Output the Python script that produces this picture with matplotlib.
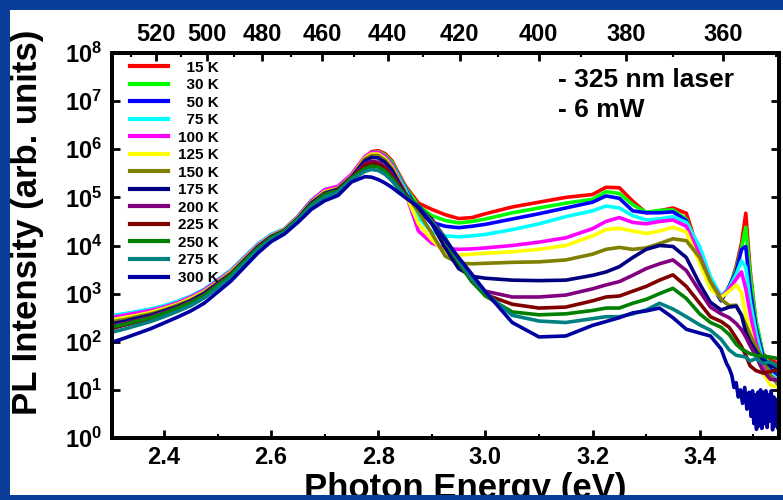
import numpy as np
import matplotlib
matplotlib.use("Agg")
import matplotlib.pyplot as plt
from matplotlib.patches import Rectangle
from matplotlib.ticker import FixedLocator, LogLocator, MultipleLocator, NullFormatter

# Photon energy grid (eV) shared by the curves.
energy = [2.300, 2.325, 2.350, 2.375, 2.400, 2.425, 2.450, 2.475, 2.500, 2.525,
          2.550, 2.575, 2.600, 2.625, 2.650, 2.675, 2.700, 2.725, 2.750, 2.775,
          2.7875, 2.800, 2.8125, 2.825, 2.850, 2.875, 2.900, 2.925, 2.950, 2.975,
          3.000, 3.050, 3.100, 3.150, 3.200, 3.225, 3.250, 3.275, 3.300, 3.325,
          3.350, 3.375, 3.400, 3.420, 3.440, 3.455, 3.468, 3.478, 3.486, 3.494,
          3.505, 3.518, 3.532, 3.547]

temperatures = [15, 30, 50, 75, 100, 125, 150, 175, 200, 225, 250, 275, 300]
colors = ["#ff0000", "#00ff00", "#0000ff", "#00ffff", "#ff00ff", "#ffff00",
          "#808000", "#000080", "#800080", "#800000", "#008000", "#008080",
          "#0000a0"]

# log10 of PL intensity.
log_15k = [2.45, 2.49, 2.55, 2.61, 2.69, 2.78, 2.90, 3.04, 3.24, 3.45, 3.72, 3.99, 4.20,
           4.33, 4.58, 4.90, 5.12, 5.19, 5.44,
           5.82, 5.95, 5.97, 5.91, 5.77,
           5.25, 4.88, 4.75, 4.64, 4.56, 4.58, 4.66, 4.80, 4.90, 5.00,
           5.06, 5.21, 5.20, 4.92, 4.68, 4.72, 4.78, 4.67, 3.80, 3.26, 2.88, 3.10, 3.56,
           4.05, 4.67, 3.50, 2.40, 1.75, 1.62, 1.55]
log_30k = [2.48, 2.52, 2.58, 2.63, 2.70, 2.80, 2.91, 3.05, 3.26, 3.46, 3.73, 4.00, 4.21,
           4.33, 4.59, 4.91, 5.13, 5.20, 5.45,
           5.82, 5.93, 5.95, 5.88, 5.74,
           5.22, 4.82, 4.62, 4.52, 4.47, 4.50, 4.55, 4.68, 4.78, 4.88,
           4.96, 5.12, 5.08, 4.85, 4.69, 4.73, 4.74, 4.55, 3.85, 3.30, 2.88, 3.15, 3.50,
           3.95, 4.38, 3.40, 2.45, 1.75, 1.50, 1.35]
log_50k = [2.53, 2.57, 2.62, 2.67, 2.74, 2.83, 2.94, 3.08, 3.28, 3.48, 3.75, 4.02, 4.22,
           4.34, 4.60, 4.93, 5.15, 5.22, 5.46,
           5.82, 5.91, 5.92, 5.85, 5.70,
           5.20, 4.70, 4.48, 4.40, 4.37, 4.40, 4.44, 4.55, 4.66, 4.78,
           4.90, 5.03, 4.98, 4.72, 4.68, 4.68, 4.70, 4.52, 3.70, 3.20, 2.85, 3.15, 3.45,
           3.92, 3.98, 3.10, 2.30, 1.70, 1.42, 1.28]
log_75k = [2.54, 2.58, 2.63, 2.68, 2.75, 2.84, 2.95, 3.09, 3.29, 3.49, 3.76, 4.03, 4.23,
           4.35, 4.61, 4.94, 5.16, 5.23, 5.47,
           5.83, 5.92, 5.93, 5.85, 5.69,
           5.18, 4.58, 4.28, 4.20, 4.18, 4.20, 4.23, 4.33, 4.45, 4.60,
           4.72, 4.82, 4.78, 4.62, 4.53, 4.55, 4.60, 4.48, 3.98, 3.35, 2.95, 3.12, 3.40,
           3.68, 3.55, 2.85, 2.20, 1.60, 1.35, 1.20]
log_100k = [2.50, 2.55, 2.60, 2.65, 2.72, 2.81, 2.93, 3.07, 3.27, 3.47, 3.74, 4.01, 4.21,
            4.34, 4.60, 4.93, 5.16, 5.23, 5.48,
            5.85, 5.93, 5.94, 5.85, 5.68,
            5.12, 4.30, 4.05, 3.94, 3.92, 3.93, 3.95, 4.00, 4.07, 4.16,
            4.35, 4.50, 4.58, 4.48, 4.45, 4.50, 4.53, 4.40, 3.80, 3.25, 2.92, 3.10, 3.30,
            3.45, 3.10, 2.60, 2.00, 1.50, 1.30, 1.15]
log_125k = [2.45, 2.50, 2.55, 2.61, 2.69, 2.78, 2.90, 3.04, 3.24, 3.45, 3.72, 3.99, 4.20,
            4.33, 4.58, 4.90, 5.12, 5.19, 5.44,
            5.82, 5.90, 5.90, 5.81, 5.64,
            5.10, 4.45, 4.12, 3.85, 3.80, 3.82, 3.84, 3.87, 3.92, 4.00,
            4.20, 4.33, 4.36, 4.30, 4.25, 4.30, 4.38, 4.28, 3.63, 3.10, 2.92, 3.05, 3.18,
            3.02, 2.55, 2.25, 1.80, 1.35, 1.10, 1.05]
log_150k = [2.41, 2.46, 2.52, 2.58, 2.66, 2.76, 2.87, 3.02, 3.23, 3.43, 3.71, 3.98, 4.19,
            4.32, 4.57, 4.89, 5.10, 5.18, 5.43,
            5.80, 5.87, 5.87, 5.78, 5.61,
            5.10, 4.70, 4.25, 3.78, 3.63, 3.62, 3.63, 3.65, 3.66, 3.70,
            3.82, 3.92, 3.96, 3.92, 3.95, 4.04, 4.14, 4.10, 3.75, 3.25, 2.88, 2.75, 2.76,
            2.55, 2.35, 2.15, 1.90, 1.65, 1.30, 1.10]
log_175k = [2.37, 2.42, 2.49, 2.55, 2.64, 2.73, 2.85, 3.00, 3.21, 3.41, 3.69, 3.97, 4.18,
            4.31, 4.56, 4.88, 5.08, 5.17, 5.42,
            5.76, 5.83, 5.82, 5.73, 5.57,
            5.08, 4.78, 4.45, 3.95, 3.52, 3.36, 3.32, 3.28, 3.27, 3.28,
            3.38, 3.45, 3.56, 3.75, 3.92, 4.00, 3.98, 3.75, 3.20, 2.82, 2.66, 2.72, 2.74,
            2.55, 2.20, 2.00, 1.80, 1.62, 1.50, 1.45]
log_200k = [2.32, 2.38, 2.45, 2.52, 2.61, 2.71, 2.83, 2.97, 3.19, 3.40, 3.67, 3.95, 4.17,
            4.30, 4.55, 4.86, 5.07, 5.15, 5.41,
            5.70, 5.75, 5.73, 5.64, 5.49,
            5.06, 4.80, 4.55, 4.15, 3.65, 3.25, 3.05, 2.93, 2.93, 2.97,
            3.10, 3.18, 3.25, 3.38, 3.52, 3.62, 3.70, 3.48, 3.05, 2.72, 2.58, 2.50, 2.38,
            2.25, 2.10, 1.92, 1.70, 1.40, 1.22, 1.20]
log_225k = [2.27, 2.34, 2.41, 2.48, 2.58, 2.68, 2.80, 2.95, 3.16, 3.38, 3.66, 3.94, 4.15,
            4.29, 4.54, 4.85, 5.05, 5.14, 5.39,
            5.66, 5.71, 5.69, 5.60, 5.45,
            5.05, 4.82, 4.52, 4.12, 3.65, 3.25, 2.98, 2.78, 2.70, 2.72,
            2.85, 2.93, 2.95, 3.05, 3.15, 3.28, 3.39, 3.15, 2.80, 2.52, 2.42, 2.30, 2.08,
            1.90, 1.72, 1.50, 1.40, 1.35, 1.38, 1.42]
log_250k = [2.30, 2.36, 2.43, 2.50, 2.59, 2.70, 2.81, 2.96, 3.17, 3.39, 3.67, 3.94, 4.16,
            4.30, 4.55, 4.85, 5.06, 5.14, 5.40,
            5.60, 5.65, 5.63, 5.55, 5.41,
            5.04, 4.83, 4.50, 4.10, 3.65, 3.25, 2.95, 2.62, 2.56, 2.58,
            2.65, 2.70, 2.70, 2.80, 2.88, 3.00, 3.11, 2.90, 2.58, 2.40, 2.30, 2.15, 1.95,
            1.85, 1.80, 1.75, 1.72, 1.70, 1.68, 1.65]
log_275k = [2.19, 2.26, 2.34, 2.42, 2.52, 2.63, 2.75, 2.91, 3.12, 3.34, 3.63, 3.91, 4.13,
            4.28, 4.53, 4.82, 5.01, 5.11, 5.37,
            5.54, 5.58, 5.56, 5.48, 5.35,
            5.02, 4.82, 4.50, 4.15, 3.70, 3.30, 3.02, 2.55, 2.43, 2.40,
            2.48, 2.52, 2.52, 2.58, 2.66, 2.80, 2.68, 2.52, 2.35, 2.24, 2.05, 1.83, 1.72,
            1.70, 1.68, 1.60, 1.65, 1.55, 1.58, 1.48]
# 300 K follows the grid up to 3.44 eV, then a noisy tail on a finer grid.
log_300k = [1.98, 2.07, 2.17, 2.27, 2.39, 2.51, 2.64, 2.80, 3.03, 3.26, 3.55, 3.84, 4.08,
            4.24, 4.48, 4.75, 4.93, 5.04, 5.32,
            5.43, 5.42, 5.37, 5.30, 5.21,
            5.00, 4.80, 4.45, 4.12, 3.75, 3.40, 3.04, 2.40, 2.10, 2.12,
            2.34, 2.42, 2.50, 2.60, 2.64, 2.70, 2.50, 2.26, 2.18, 2.12, 1.85]
tail_energy_300k = [3.445, 3.450, 3.455, 3.460, 3.464, 3.468, 3.472, 3.476, 3.480, 3.484,
                    3.488, 3.492, 3.496, 3.4985, 3.501, 3.5035, 3.506, 3.5085, 3.511,
                    3.5135, 3.516, 3.5185, 3.521, 3.5235, 3.526, 3.5285, 3.531, 3.5335,
                    3.536, 3.5385, 3.541, 3.5435, 3.546, 3.548]
tail_log_300k = [1.70, 1.55, 1.45, 1.30, 1.05, 1.15, 0.85, 1.00, 0.72, 1.05, 0.60, 0.95,
                 0.45, 0.98, 0.30, 0.90, 0.18, 0.95, 0.25, 1.00, 0.20, 0.95, 0.30, 0.98,
                 0.22, 0.90, 0.35, 0.98, 0.17, 0.85, 0.25, 0.80, 0.20, 0.70]

series = [log_15k, log_30k, log_50k, log_75k, log_100k, log_125k, log_150k, log_175k,
          log_200k, log_225k, log_250k, log_275k]

wavelength_major = [360, 380, 400, 420, 440, 460, 480, 500, 520]
wavelength_minor = [350, 370, 390, 410, 430, 450, 470, 490, 510, 530]
decades = list(range(0, 9))

HC = 1239.84  # eV nm

plt.rcParams["font.family"] = ["Liberation Sans", "DejaVu Sans"]
plt.rcParams["font.weight"] = "bold"
plt.rcParams["mathtext.fontset"] = "custom"
plt.rcParams["mathtext.rm"] = "Liberation Sans:bold"
plt.rcParams["mathtext.bf"] = "Liberation Sans:bold"
plt.rcParams["mathtext.it"] = "Liberation Sans:bold:italic"

fig = plt.figure(figsize=(7.83, 5.00), dpi=100, facecolor="white")
ax = fig.add_axes([112 / 783, 1 - 438 / 500, 667 / 783, 385 / 500])

for temp, color, vals in zip(temperatures[:-1], colors[:-1], series):
    pad = "  " * (3 - len(str(temp)))
    ax.plot(energy, np.power(10.0, vals), color=color, lw=2.6, label=f"{pad}{temp} K")

e300 = energy[:len(log_300k)] + tail_energy_300k
v300 = log_300k + tail_log_300k
ax.plot(e300, np.power(10.0, v300), color=colors[-1], lw=2.6, label="300 K")

ax.set_yscale("log")
ax.set_xlim(2.303, 3.548)
ax.set_ylim(1, 1e8)

# Ticks: bottom/left/right.
ax.xaxis.set_major_locator(MultipleLocator(0.2))
ax.xaxis.set_minor_locator(MultipleLocator(0.1))
ax.set_yticks([10.0 ** k for k in decades])
ax.set_yticklabels([rf"$10^{{{k}}}$" for k in decades])
ax.yaxis.set_minor_locator(LogLocator(base=10, subs=np.arange(2, 10)))
ax.yaxis.set_minor_formatter(NullFormatter())
ax.tick_params(which="both", direction="in", top=False, right=True, width=2)
ax.tick_params(which="major", length=6)
ax.tick_params(which="minor", length=3, width=1.5)
ax.tick_params(axis="x", which="major", labelsize=17, pad=6)
ax.tick_params(axis="y", which="major", labelsize=17, pad=7)
for spine in ax.spines.values():
    spine.set_linewidth(2.8)

# Top axis in wavelength.
ax_top = ax.twiny()
ax_top.set_xlim(ax.get_xlim())
ax_top.xaxis.set_major_locator(FixedLocator([HC / w for w in wavelength_major]))
ax_top.xaxis.set_minor_locator(FixedLocator([HC / w for w in wavelength_minor]))
ax_top.set_xticklabels([str(w) for w in wavelength_major])
ax_top.tick_params(which="both", direction="in", width=2, labelsize=17, pad=5)
ax_top.tick_params(which="major", length=6)
ax_top.tick_params(which="minor", length=3, width=1.5)
for spine in ax_top.spines.values():
    spine.set_linewidth(2.8)

leg = ax.legend(loc="upper left", bbox_to_anchor=(0.027, 0.98), frameon=False,
                fontsize=11, handlelength=2.48, handletextpad=0.65, labelspacing=0.23,
                borderpad=0, borderaxespad=0)
for line in leg.get_lines():
    line.set_linewidth(3)

ax.text(0.669, 0.930, "- 325 nm laser", transform=ax.transAxes, fontsize=19,
        fontweight="bold", va="center", ha="left")
ax.text(0.669, 0.852, "- 6 mW", transform=ax.transAxes, fontsize=19,
        fontweight="bold", va="center", ha="left")

fig.text(28 / 783, 1 - 222 / 500, "PL Intensity (arb. units)", rotation=90,
         fontsize=25, fontweight="bold", ha="center", va="center")
fig.text(465 / 783, 0.004, "Photon Energy (eV)", fontsize=25, fontweight="bold",
         ha="center", va="baseline")

# Blue slide frame around the chart.
frame = "#0b3d9b"
for x0, y0, w, h in [(0, 1 - 10 / 500, 1, 10 / 500), (0, 0, 10 / 783, 1),
                     (0, 0, 1, 5 / 500)]:
    fig.add_artist(Rectangle((x0, y0), w, h, transform=fig.transFigure,
                             facecolor=frame, edgecolor="none", zorder=10))

fig.savefig("out.png", dpi=100, facecolor="white")
